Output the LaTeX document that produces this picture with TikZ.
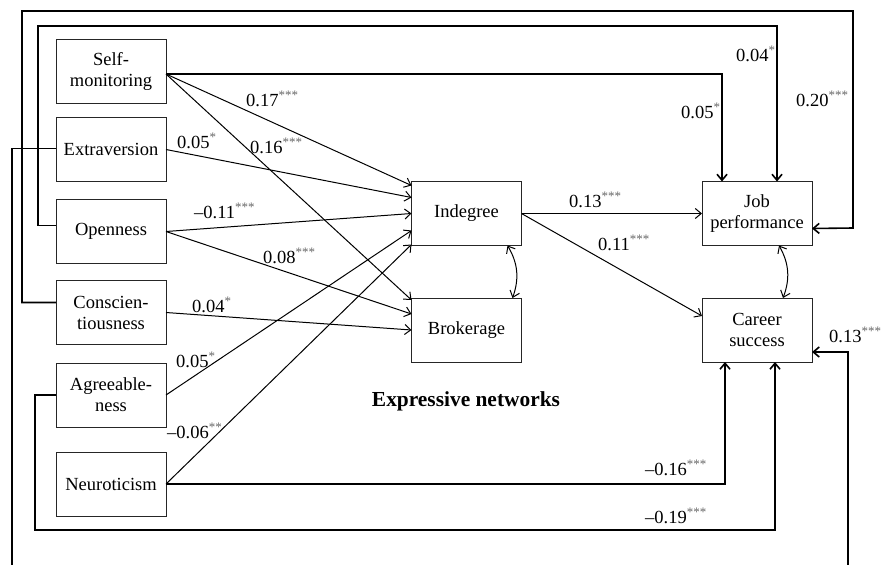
\documentclass[tikz,border=0pt]{standalone}
\usepackage{fontspec}
\setmainfont{Liberation Serif}
\usetikzlibrary{arrows.meta,positioning}
\tikzset{
    var/.style = {
        draw = black!85,
        line width = 0.9pt,
        minimum width = 110pt,
        minimum height = 64pt,
        inner sep = 2pt,
        outer sep = 0pt,
        align = center,
        },
    coef/.style = {
        anchor = base west,
        inner sep = 0pt,
        },
    path/.style = {
        ->,
        line width = 1pt,
        },
    long path/.style = {
        ->,
        line width = 1.6pt,
        },
    corr/.style = {
        <->,
        line width = 1pt,
        },
}
\newcommand{\stars}[1]{\textsuperscript{\color{black!60}#1}}

\begin{document}
\begin{tikzpicture}[
            x = 1pt, y = -1pt,
            font = \fontsize{18.5}{21}\selectfont,
            >={Straight Barb[length=6pt, width=10pt]},
            ]
            \useasboundingbox (0,0) rectangle (881,565);

            % personality traits
            \node [var] (self)  at (111,71)    {Self-\\monitoring};
            \node [var] (extra) at (111,149.5) {Extraversion};
            \node [var] (open)  at (111,231.5) {Openness};
            \node [var] (consc) at (111,312.5) {Conscien-\\tiousness};
            \node [var] (agree) at (111,395)   {Agreeable-\\ness};
            \node [var] (neuro) at (111,484)   {Neuroticism};

            % networks and outcomes
            \node [var] (indeg)  at (466.5,213.5) {Indegree};
            \node [var] (brok)   at (466.5,330)   {Brokerage};
            \node [var] (job)    at (757,213.5)   {Job\\performance};
            \node [var] (career) at (757,330)     {Career\\success};

            \node [font=\fontsize{21.4}{24}\selectfont\bfseries] (title) at (466,401) {Expressive networks};

            % traits -> networks
            \draw[path] ([yshift=-3pt]self.east) -- ([yshift=28pt]indeg.west);
            \draw[path] ([yshift=-3pt]self.east) -- ([yshift=-2pt]brok.north west);
            \draw[path] (extra.east) -- ([yshift=16pt]indeg.west);
            \draw[path] (open.east) -- (indeg.west);
            \draw[path] (open.east) -- ([yshift=16pt]brok.west);
            \draw[path] (consc.east) -- (brok.west);
            \draw[path] (agree.east) -- ([yshift=-17pt]indeg.west);
            \draw[path] (neuro.east) -- ([yshift=1pt]indeg.south west);

            % networks -> outcomes
            \draw[path] (indeg.east) -- (job.west);
            \draw[path] (indeg.east) -- ([yshift=14pt]career.west);
            \draw[corr] ([xshift=41pt]indeg.south) to[bend left=25] ([xshift=46pt]brok.north);
            \draw[corr] ([xshift=22pt]job.south) to[bend left=25] ([xshift=26pt]career.north);

            % direct paths
            \draw[long path] ([yshift=-3pt]self.east) -| ([xshift=-35pt]job.north);
            \draw[long path] ([yshift=6pt]open.west) -| (38,26) -| ([xshift=20pt]job.north);
            \draw[long path] ([yshift=10pt]consc.west) -| (22,11) -| (853,228) -- ([yshift=-15pt]job.east);
            \draw[line width=1.6pt] ([yshift=1pt]extra.west) -| (12,565);
            \draw[long path] (848,565) |- ([yshift=-22pt]career.east);
            \draw[long path] (agree.west) -| (35,530) -| ([xshift=18pt]career.south);
            \draw[long path] (neuro.east) -| ([xshift=-32pt]career.south);

            % coefficients
            \node[coef] (c1)  at (246,106) {0.17\stars{***}};
            \node[coef] (c2)  at (250,153) {0.16\stars{***}};
            \node[coef] (c3)  at (177,148) {0.05\stars{*}};
            \node[coef] (c4)  at (194,218) {\textendash0.11\stars{***}};
            \node[coef] (c5)  at (263,263) {0.08\stars{***}};
            \node[coef] (c6)  at (192,312) {0.04\stars{*}};
            \node[coef] (c7)  at (176,367) {0.05\stars{*}};
            \node[coef] (c8)  at (167,438) {\textendash0.06\stars{**}};
            \node[coef] (c9)  at (569,207) {0.13\stars{***}};
            \node[coef] (c10) at (598,250) {0.11\stars{***}};
            \node[coef] (c11) at (736,61)  {0.04\stars{*}};
            \node[coef] (c12) at (681,118) {0.05\stars{*}};
            \node[coef] (c13) at (796,106) {0.20\stars{***}};
            \node[coef] (c14) at (829,342) {0.13\stars{***}};
            \node[coef] (c15) at (645,475) {\textendash0.16\stars{***}};
            \node[coef] (c16) at (645,523) {\textendash0.19\stars{***}};
        \end{tikzpicture}
\end{document}
